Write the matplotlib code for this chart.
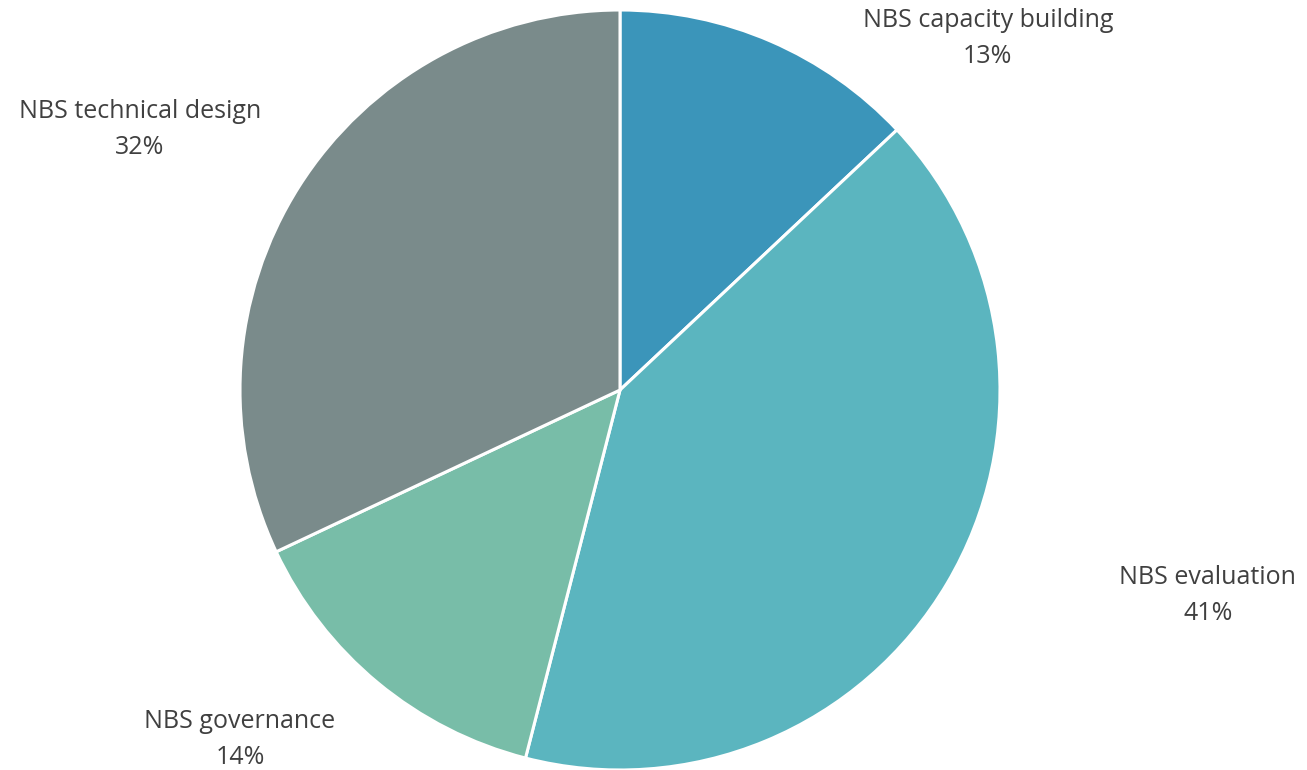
import matplotlib.pyplot as plt

categories = ["NBS capacity building", "NBS evaluation", "NBS governance", "NBS technical design"]
shares = [13, 41, 14, 32]
colors = ["#3B95BA", "#5BB5BF", "#78BDA8", "#7A8B8B"]
# label anchor positions (pie radius = 1, centre at 0,0)
label_xy = [(0.968, 0.925), (1.547, -0.54), (-1.0, -0.92), (-1.263, 0.685)]

plt.rcParams["font.family"] = ["Open Sans", "DejaVu Sans"]

fig = plt.figure(figsize=(13.07, 7.7), dpi=100)
ax = fig.add_axes([0, 0, 1, 1])
ax.pie(shares, colors=colors, startangle=90, counterclock=False, radius=1,
       wedgeprops=dict(edgecolor="white", linewidth=2.2))
ax.set_xlim(-620 / 380, (1307 - 620) / 380)
ax.set_ylim(-(770 - 390) / 380, 390 / 380)
ax.set_aspect("equal")
ax.axis("off")

for name, val, (x, y) in zip(categories, shares, label_xy):
    ax.text(x, y, f"{name}\n{val}%", ha="center", va="center",
            fontsize=18, color="#404040", linespacing=1.6)

fig.savefig("out.png", dpi=100)
